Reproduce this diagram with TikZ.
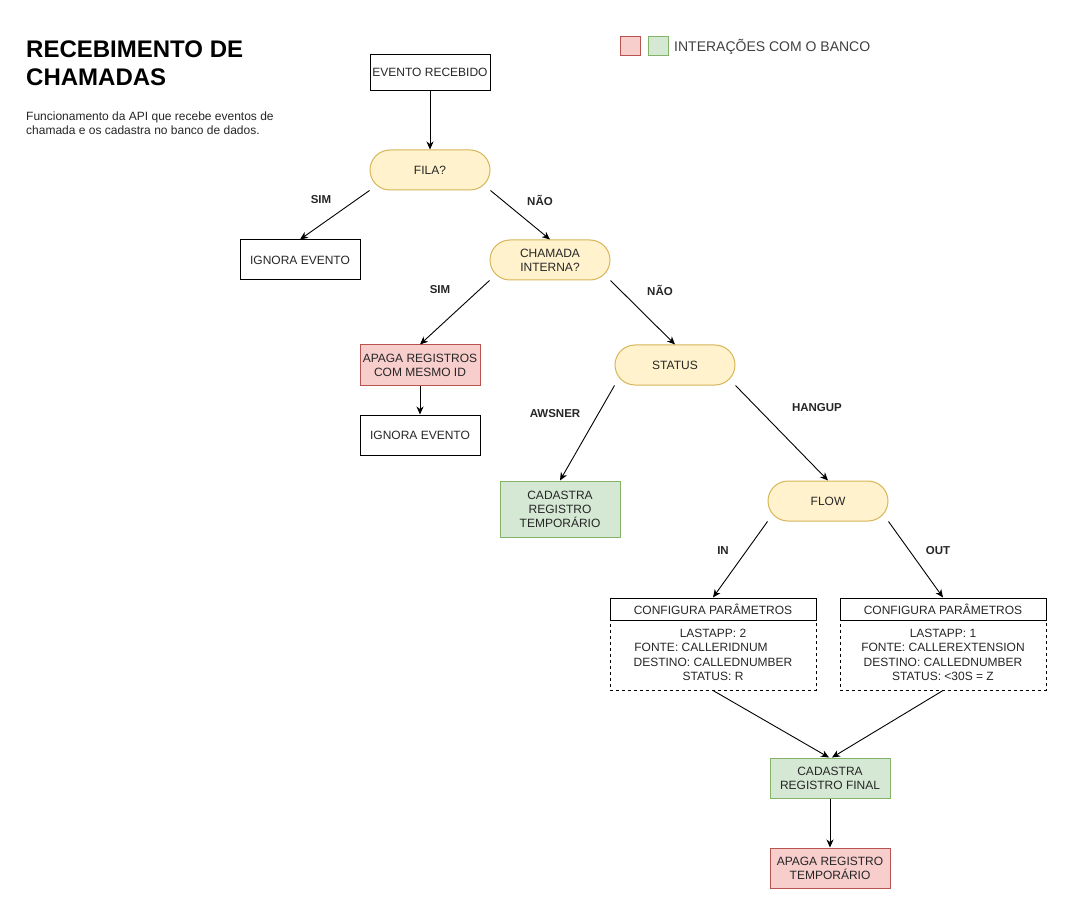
\documentclass[tikz,border=0pt]{standalone}
\usepackage{fontspec}
\setmainfont{Liberation Sans}
\usepackage{tikz}
\usetikzlibrary{arrows.meta}
\definecolor{amarelo}{HTML}{FFF2CC}
\definecolor{amareloborda}{HTML}{D6B656}
\definecolor{verde}{HTML}{D5E8D4}
\definecolor{verdeborda}{HTML}{82B366}
\definecolor{vermelho}{HTML}{F8CECC}
\definecolor{vermelhoborda}{HTML}{B85450}
\tikzstyle{acao} = [rectangle, draw, line width=1pt, text=black!85,
    minimum width=120pt, minimum height=40pt, align=center, inner sep=0pt,
    font=\fontsize{12}{14}\selectfont]
\tikzstyle{decisao} = [acao, rounded corners=20pt, fill=amarelo, draw=amareloborda]
\tikzstyle{gravar} = [acao, fill=verde, draw=verdeborda]
\tikzstyle{apagar} = [acao, fill=vermelho, draw=vermelhoborda]
\tikzstyle{cabecalho} = [acao, minimum width=206pt, minimum height=22pt]
\tikzstyle{parametros} = [acao, minimum width=206pt, minimum height=70pt,
    dash pattern=on 3pt off 3pt, font=\fontsize{12}{14.5}\selectfont]
\tikzstyle{legenda} = [rectangle, draw, line width=1pt, minimum width=20pt, minimum height=19pt, inner sep=0pt]
\tikzstyle{rotulo} = [inner sep=0pt, text=black!85, font=\fontsize{11.5}{13}\selectfont\bfseries]
\tikzstyle{line} = [draw, line width=0.9pt, -{Stealth[length=8pt,width=7pt,inset=2.5pt]}]

\begin{document}
\begin{tikzpicture}[x=1pt, y=-1pt]
    \useasboundingbox (0,0) rectangle (1066,909);
    % titulo e legenda
    \node [anchor=north west, align=left, inner sep=0pt, font=\fontsize{24}{28}\selectfont\bfseries] at (26,41) (titulo) {RECEBIMENTO DE\\CHAMADAS};
    \node [anchor=north west, align=left, inner sep=0pt, text=black!85, font=\fontsize{12}{14}\selectfont] at (26,112) (descricao) {Funcionamento da API que recebe eventos de\\chamada e os cadastra no banco de dados.};
    \node [legenda, fill=vermelho, draw=vermelhoborda] at (630.5,46) (legvermelho) {};
    \node [legenda, fill=verde, draw=verdeborda] at (658,46) (legverde) {};
    \node [anchor=west, inner sep=0pt, text=black!75, font=\fontsize{14}{16}\selectfont] at (674,47) (legtexto) {INTERAÇÕES COM O BANCO};
    % fluxo
    \node [acao, minimum height=36pt] at (430,72.5) (evento) {EVENTO RECEBIDO};
    \node [decisao] at (430,170) (fila) {FILA?};
    \node [acao] at (300,260) (ignora1) {IGNORA EVENTO};
    \node [decisao] at (550,260) (interna) {CHAMADA\\INTERNA?};
    \node [apagar] at (420,365) (apagamesmo) {APAGA REGISTROS\\COM MESMO ID};
    \node [acao] at (420,435) (ignora2) {IGNORA EVENTO};
    \node [decisao] at (675,365) (status) {STATUS};
    \node [gravar, minimum height=56pt] at (560,509) (temporario) {CADASTRA\\REGISTRO\\TEMPORÁRIO};
    \node [decisao] at (828,501) (flow) {FLOW};
    \node [cabecalho] at (713,609) (cfgin) {CONFIGURA PARÂMETROS};
    \node [parametros] at (713,655) (parin) {LASTAPP: 2\\FONTE: CALLERIDNUM\hspace*{24pt}\mbox{}\\DESTINO: CALLEDNUMBER\\STATUS: R};
    \node [cabecalho] at (943,609) (cfgout) {CONFIGURA PARÂMETROS};
    \node [parametros] at (943,655) (parout) {LASTAPP: 1\\FONTE: CALLEREXTENSION\\DESTINO: CALLEDNUMBER\\STATUS: <30S = Z};
    \node [gravar] at (830,778) (final) {CADASTRA\\REGISTRO FINAL};
    \node [apagar] at (830,868) (apagatemp) {APAGA REGISTRO\\TEMPORÁRIO};
    % rotulos
    \node [rotulo] at (321,200) (simfila) {SIM};
    \node [rotulo] at (540,200) (naofila) {NÃO};
    \node [rotulo] at (440,290) (siminterna) {SIM};
    \node [rotulo] at (660,290) (naointerna) {NÃO};
    \node [rotulo] at (555,414) (awsner) {AWSNER};
    \node [rotulo] at (817,408) (hangup) {HANGUP};
    \node [rotulo] at (723,551) (in) {IN};
    \node [rotulo] at (938,551) (out) {OUT};
    % ligacoes
    \path [line] (evento) -- (fila);
    \path [line] (fila.south west) -- (ignora1.north);
    \path [line] (fila.south east) -- (interna.north);
    \path [line] (interna.south west) -- (apagamesmo.north);
    \path [line] (apagamesmo) -- (ignora2);
    \path [line] (interna.south east) -- (status.north);
    \path [line] (status.south west) -- (temporario.north);
    \path [line] (status.south east) -- (flow.north);
    \path [line] (flow.south west) -- (cfgin.north);
    \path [line] (flow.south east) -- (cfgout.north);
    \path [line] (parin.south) -- ([xshift=-1pt]final.north);
    \path [line] (parout.south) -- ([xshift=2pt]final.north);
    \path [line] (final) -- (apagatemp);
\end{tikzpicture}
\end{document}
